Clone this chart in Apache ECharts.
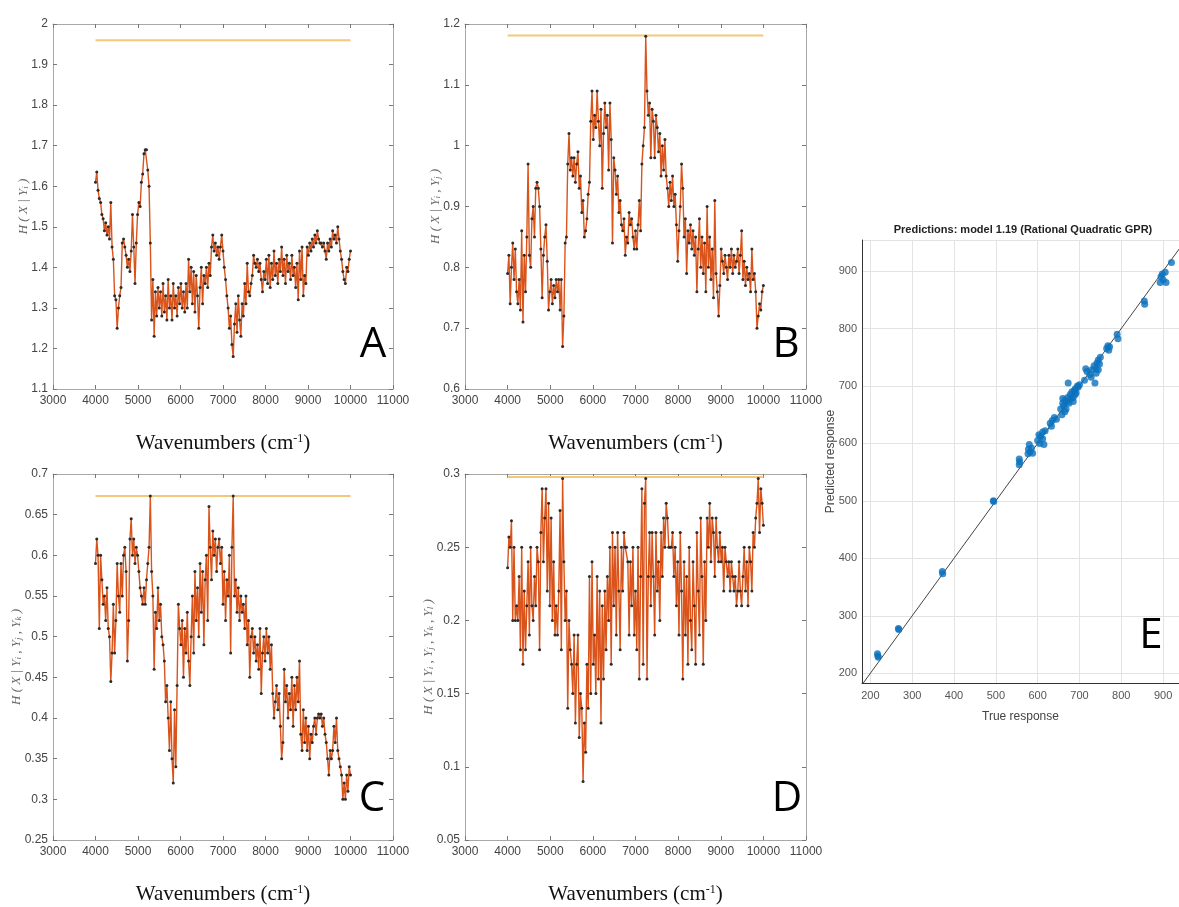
<!DOCTYPE html>
<html><head><meta charset="utf-8">
<script src="https://cdn.jsdelivr.net/npm/echarts@6/dist/echarts.min.js"></script>
<style>html,body{margin:0;padding:0;background:#fff}#c{width:1179px;height:907px}</style>
</head><body><div id="c"></div>
<script>
// Wavenumber sampling range (cm-1) shared by panels A-D
const wnStart = 4000, wnEnd = 10000;
const xTicks = [3000, 11000, 1000];

// Panel A: H(X|Yi)
const seriesA = [
1.61,1.635,1.59,1.57,1.56,1.53,1.52,1.49,1.51,1.48,
1.50,1.47,1.56,1.45,1.42,1.33,1.32,1.25,1.30,1.33,
1.35,1.46,1.47,1.45,1.43,1.40,1.42,1.39,1.44,1.53,
1.45,1.36,1.46,1.53,1.56,1.55,1.61,1.63,1.68,1.69,
1.69,1.64,1.60,1.46,1.27,1.37,1.23,1.34,1.28,1.35,
1.30,1.34,1.28,1.36,1.29,1.33,1.27,1.37,1.30,1.33,
1.27,1.36,1.30,1.33,1.28,1.35,1.31,1.36,1.30,1.34,
1.29,1.36,1.30,1.42,1.34,1.40,1.31,1.39,1.29,1.38,
1.33,1.25,1.35,1.40,1.31,1.38,1.36,1.40,1.35,1.41,
1.38,1.45,1.48,1.44,1.46,1.43,1.45,1.42,1.45,1.48,
1.44,1.40,1.37,1.33,1.30,1.25,1.28,1.21,1.18,1.26,
1.31,1.24,1.33,1.27,1.23,1.31,1.28,1.36,1.31,1.41,
1.34,1.33,1.36,1.38,1.43,1.41,1.40,1.42,1.39,1.41,
1.37,1.34,1.39,1.37,1.42,1.36,1.43,1.35,1.41,1.37,
1.44,1.38,1.41,1.36,1.42,1.39,1.45,1.38,1.42,1.36,
1.43,1.39,1.41,1.37,1.43,1.38,1.40,1.35,1.41,1.32,
1.44,1.37,1.45,1.33,1.38,1.36,1.45,1.43,1.46,1.44,
1.47,1.45,1.48,1.46,1.49,1.47,1.46,1.46,1.45,1.46,
1.44,1.42,1.46,1.44,1.47,1.45,1.49,1.47,1.48,1.46,
1.50,1.47,1.44,1.42,1.39,1.37,1.36,1.40,1.39,1.42,
1.44];
// Panel B: H(X|Yi,Yj)
const seriesB = [
0.79,0.82,0.74,0.80,0.84,0.78,0.83,0.76,0.74,0.78,
0.73,0.86,0.71,0.82,0.76,0.85,0.97,0.82,0.80,0.88,
0.90,0.85,0.93,0.94,0.93,0.90,0.83,0.75,0.82,0.85,
0.87,0.81,0.73,0.76,0.78,0.74,0.77,0.75,0.78,0.76,
0.78,0.73,0.78,0.67,0.72,0.84,0.85,0.97,1.02,0.96,
0.98,0.95,0.98,0.94,0.97,0.99,0.93,0.95,0.89,0.91,
0.85,0.86,0.88,0.92,0.94,1.04,1.09,1.01,1.05,1.03,
1.09,1.04,1.00,1.06,0.93,1.02,1.07,1.03,1.05,0.96,
1.07,1.01,0.84,0.98,0.96,0.92,0.95,0.89,0.91,0.87,
0.86,0.88,0.82,0.85,0.84,0.89,0.87,0.88,0.85,0.83,
0.86,0.83,0.87,0.91,0.86,0.97,1.00,1.03,1.18,1.09,
1.05,1.07,0.98,1.06,1.04,0.98,1.05,1.03,0.99,1.02,
0.95,1.00,0.96,1.01,0.95,0.93,0.90,0.94,0.91,0.95,
0.90,0.92,0.87,0.81,0.86,0.90,0.97,0.93,0.85,0.88,
0.79,0.86,0.84,0.87,0.83,0.86,0.82,0.85,0.76,0.83,
0.88,0.80,0.85,0.79,0.84,0.76,0.90,0.80,0.85,0.78,
0.83,0.75,0.91,0.79,0.76,0.72,0.77,0.83,0.81,0.79,
0.82,0.80,0.78,0.82,0.80,0.83,0.79,0.82,0.80,0.81,
0.83,0.79,0.82,0.86,0.78,0.81,0.77,0.80,0.78,0.79,
0.76,0.83,0.78,0.79,0.76,0.70,0.72,0.74,0.73,0.76,
0.77];
// Panel C: H(X|Yi,Yj,Yk)
const seriesC = [
0.59,0.62,0.60,0.51,0.60,0.57,0.54,0.55,0.52,0.56,
0.51,0.50,0.445,0.48,0.54,0.48,0.52,0.59,0.55,0.53,
0.59,0.55,0.60,0.61,0.58,0.47,0.52,0.62,0.645,0.60,
0.62,0.59,0.61,0.60,0.58,0.56,0.55,0.54,0.56,0.54,
0.57,0.59,0.61,0.673,0.58,0.55,0.46,0.53,0.51,0.56,
0.52,0.54,0.50,0.49,0.47,0.42,0.44,0.40,0.36,0.42,
0.35,0.32,0.41,0.34,0.44,0.54,0.51,0.49,0.52,0.45,
0.51,0.48,0.53,0.47,0.44,0.50,0.55,0.48,0.58,0.52,
0.56,0.50,0.59,0.53,0.58,0.49,0.57,0.60,0.52,0.66,
0.61,0.57,0.63,0.60,0.62,0.58,0.61,0.62,0.59,0.61,
0.54,0.58,0.52,0.57,0.55,0.60,0.48,0.61,0.673,0.55,
0.57,0.53,0.56,0.52,0.55,0.53,0.54,0.51,0.55,0.49,
0.52,0.45,0.50,0.51,0.48,0.50,0.47,0.49,0.46,0.51,
0.43,0.48,0.50,0.47,0.51,0.48,0.50,0.46,0.49,0.43,
0.40,0.42,0.44,0.41,0.43,0.39,0.35,0.37,0.46,0.42,
0.44,0.40,0.43,0.41,0.45,0.39,0.44,0.41,0.45,0.42,
0.47,0.38,0.36,0.41,0.37,0.40,0.36,0.39,0.35,0.38,
0.37,0.39,0.40,0.38,0.40,0.405,0.40,0.405,0.39,0.40,
0.38,0.37,0.35,0.33,0.36,0.35,0.36,0.39,0.37,0.40,
0.36,0.35,0.34,0.33,0.30,0.32,0.30,0.33,0.31,0.34,
0.33];
// Panel D: H(X|Yi,Yj,Yk,Yl)
const seriesD = [
0.236,0.257,0.25,0.268,0.20,0.25,0.20,0.21,0.20,0.23,
0.18,0.25,0.17,0.22,0.18,0.21,0.24,0.19,0.25,0.21,
0.20,0.23,0.21,0.25,0.24,0.18,0.26,0.29,0.24,0.27,
0.29,0.22,0.28,0.21,0.27,0.20,0.24,0.19,0.21,0.19,
0.22,0.275,0.18,0.297,0.24,0.20,0.22,0.14,0.20,0.18,
0.17,0.15,0.19,0.13,0.17,0.19,0.12,0.15,0.14,0.09,
0.13,0.11,0.17,0.14,0.23,0.15,0.24,0.17,0.19,0.15,
0.23,0.16,0.22,0.13,0.21,0.16,0.22,0.18,0.23,0.20,
0.25,0.17,0.26,0.21,0.25,0.19,0.26,0.22,0.18,0.25,
0.22,0.26,0.25,0.25,0.24,0.19,0.24,0.21,0.25,0.19,
0.22,0.18,0.25,0.16,0.23,0.29,0.17,0.28,0.297,0.16,
0.23,0.26,0.21,0.26,0.23,0.19,0.26,0.22,0.24,0.20,
0.26,0.23,0.27,0.25,0.28,0.27,0.25,0.25,0.25,0.26,
0.23,0.25,0.21,0.24,0.19,0.26,0.22,0.16,0.24,0.19,
0.23,0.17,0.25,0.20,0.18,0.24,0.21,0.17,0.26,0.22,
0.19,0.27,0.23,0.17,0.24,0.20,0.27,0.25,0.28,0.24,
0.27,0.26,0.23,0.27,0.25,0.24,0.26,0.24,0.25,0.22,
0.25,0.24,0.23,0.24,0.22,0.24,0.23,0.22,0.23,0.21,
0.22,0.24,0.22,0.21,0.23,0.25,0.22,0.24,0.21,0.25,
0.24,0.22,0.26,0.25,0.27,0.28,0.297,0.26,0.29,0.28,
0.265];
// Reference (max) lines
const refLevels = [1.96, 1.181, 0.673, 0.298];
// y-axis ranges [min, max, interval]
const yRanges = [[1.1, 2.0, 0.1], [0.6, 1.2, 0.1], [0.25, 0.7, 0.05], [0.05, 0.3, 0.05]];
const panelLetters = ['A', 'B', 'C', 'D', 'E'];

// Panel E: predictions vs true response
const trueResp = [218,217,219,267,268,373,372,494,495,556,556,557,578,580,582,585,577,588,
600,603,607,612,605,615,612,618,630,635,640,633,645,
655,658,660,662,665,668,670,672,673,675,678,680,682,685,688,690,692,695,697,700,685,690,665,660,
712,715,718,725,728,730,735,737,740,742,745,748,750,740,745,
765,768,770,772,790,792,855,856,893,895,898,900,905,907,920];
const predResp = [230,234,228,278,276,373,377,500,499,573,563,568,590,598,585,592,582,583,
605,615,612,620,600,598,608,622,635,640,645,630,642,
660,650,670,665,675,660,672,680,705,670,685,678,690,680,692,695,688,700,698,702,673,685,655,678,
710,730,725,720,715,728,735,705,730,740,745,738,750,722,728,
765,770,762,768,790,782,848,842,880,890,895,885,898,880,915];
const eRange = {xmin: 180, xmax: 938, ymin: 183, ymax: 954};
const eTitle = 'Predictions: model 1.19 (Rational Quadratic GPR)';

const yNames = [
  'H ( X | Y{s|i} )',
  'H ( X | Y{s|i} , Y{s|j} )',
  'H ( X | Y{s|i} , Y{s|j} , Y{s|k} )',
  'H ( X | Y{s|i} , Y{s|j} , Y{s|k} , Y{s|l} )'
];
const yNameGaps = [23, 23, 30, 30];

function toXY(arr) {
  const n = arr.length;
  return arr.map((v, i) => [wnStart + i * (wnEnd - wnStart) / (n - 1), v]);
}

const grids = [
  {left: 53, top: 24, width: 340, height: 365},
  {left: 465, top: 24, width: 341, height: 365},
  {left: 53, top: 474, width: 340, height: 366},
  {left: 465, top: 474, width: 341, height: 366},
  {left: 862, top: 240, width: 317, height: 443}
];

const tickFont = "'Liberation Sans',Arial,sans-serif";
const boxColor = '#a8a8a8';
const xAxes = [], yAxes = [], series = [];
const allSeries = [seriesA, seriesB, seriesC, seriesD];

for (let p = 0; p < 4; p++) {
  const [ymin, ymax, yint] = yRanges[p];
  // bottom axis
  xAxes.push({
    type: 'value', gridIndex: p, min: xTicks[0], max: xTicks[1], interval: xTicks[2],
    axisLine: {lineStyle: {color: boxColor}},
    axisTick: {inside: true, length: 4, lineStyle: {color: '#777'}},
    splitLine: {show: false},
    axisLabel: {color: '#444', fontSize: 12, fontFamily: tickFont, margin: 6, formatter: v => String(v)},
    name: '{a|Wavenumbers (cm}{sup|-1}{a|)}',
    nameLocation: 'middle', nameGap: 44, nameMoveOverlap: false,
    nameTextStyle: {
      rich: {
        a: {fontFamily: "'Liberation Serif','Times New Roman',serif", fontSize: 21, color: '#111'},
        sup: {fontFamily: "'Liberation Serif','Times New Roman',serif", fontSize: 12, color: '#111', verticalAlign: 'top', padding: [0, 0, 8, 0]}
      }
    }
  });
  // top (box) axis
  xAxes.push({
    type: 'value', gridIndex: p, position: 'top', min: xTicks[0], max: xTicks[1], interval: xTicks[2],
    axisLine: {lineStyle: {color: boxColor}},
    axisTick: {inside: true, length: 4, lineStyle: {color: '#777'}},
    splitLine: {show: false}, axisLabel: {show: false}
  });
  yAxes.push({
    type: 'value', gridIndex: p, min: ymin, max: ymax, interval: yint,
    axisLine: {show: true, lineStyle: {color: boxColor}},
    axisTick: {show: true, inside: true, length: 4, lineStyle: {color: '#777'}},
    splitLine: {show: false},
    axisLabel: {color: '#444', fontSize: 12, fontFamily: tickFont, margin: 5},
    name: yNames[p], nameLocation: 'middle', nameGap: yNameGaps[p], nameRotate: 90, nameMoveOverlap: false,
    nameTextStyle: {
      fontFamily: "'Liberation Serif','Times New Roman',serif", fontStyle: 'italic', fontSize: 13, color: '#666',
      rich: {s: {fontFamily: "'Liberation Serif',serif", fontStyle: 'italic', fontSize: 9, color: '#666', verticalAlign: 'bottom'}}
    }
  });
  yAxes.push({
    type: 'value', gridIndex: p, position: 'right', min: ymin, max: ymax, interval: yint,
    axisLine: {show: true, lineStyle: {color: boxColor}},
    axisTick: {show: true, inside: true, length: 4, lineStyle: {color: '#777'}},
    splitLine: {show: false}, axisLabel: {show: false}
  });
  const xi = p * 2, yi = p * 2;
  series.push({
    type: 'line', xAxisIndex: xi, yAxisIndex: yi, z: 1,
    data: [[wnStart, refLevels[p]], [wnEnd, refLevels[p]]],
    symbol: 'none', silent: true,
    lineStyle: {color: '#f5c778', width: 2}
  });
  series.push({
    type: 'line', xAxisIndex: xi, yAxisIndex: yi, z: 3,
    data: toXY(allSeries[p]),
    symbol: 'circle', symbolSize: 3, showSymbol: true,
    itemStyle: {color: '#2a2a2a'},
    lineStyle: {color: '#d9531a', width: 1.4}
  });
}

// Panel E axes
const eXi = xAxes.length, eYi = yAxes.length;
xAxes.push({
  type: 'value', gridIndex: 4, min: eRange.xmin, max: eRange.xmax, splitNumber: 8,
  axisLine: {onZero: false, lineStyle: {color: '#333'}},
  axisTick: {show: false},
  splitLine: {show: true, lineStyle: {color: '#e3e3e3'}},
  axisLabel: {color: '#555', fontSize: 11, fontFamily: tickFont, showMinLabel: false, showMaxLabel: false, margin: 7},
  name: 'True response', nameLocation: 'middle', nameGap: 28, nameMoveOverlap: false,
  nameTextStyle: {color: '#444', fontSize: 12, fontFamily: tickFont}
});
yAxes.push({
  type: 'value', gridIndex: 4, min: eRange.ymin, max: eRange.ymax, splitNumber: 8,
  axisLine: {show: true, onZero: false, lineStyle: {color: '#333'}},
  axisTick: {show: false},
  splitLine: {show: true, lineStyle: {color: '#e3e3e3'}},
  axisLabel: {color: '#555', fontSize: 11, fontFamily: tickFont, showMinLabel: false, showMaxLabel: false, margin: 5},
  name: 'Predicted response', nameLocation: 'middle', nameGap: 25, nameRotate: 90, nameMoveOverlap: false,
  nameTextStyle: {color: '#444', fontSize: 12, fontFamily: tickFont}
});
series.push({
  type: 'line', xAxisIndex: eXi, yAxisIndex: eYi, z: 2,
  data: [[eRange.xmin - 20, eRange.xmin - 20], [eRange.ymax + 20, eRange.ymax + 20]],
  symbol: 'none', clip: true, silent: true,
  lineStyle: {color: '#444', width: 1}
});
series.push({
  type: 'scatter', xAxisIndex: eXi, yAxisIndex: eYi, z: 3,
  data: trueResp.map((t, i) => [t, predResp[i]]),
  symbolSize: 7, itemStyle: {color: '#0b72bd'}
});

const letterPos = [[373, 345], [786, 345], [372, 799], [787, 799], [1151, 636]];
const graphic = letterPos.map((pos, i) => ({
  type: 'text', x: pos[0], y: pos[1], z: 10,
  style: {text: panelLetters[i], font: "42px 'Open Sans','Noto Sans',sans-serif", fill: '#000', align: 'center', verticalAlign: 'middle'}
}));
graphic.push({
  type: 'text', x: 1023, y: 230, z: 10,
  style: {text: eTitle, font: "bold 11px " + tickFont, fill: '#222', align: 'center', verticalAlign: 'middle'}
});

const chart = echarts.init(document.getElementById('c'));
chart.setOption({
  animation: false,
  grid: grids,
  xAxis: xAxes,
  yAxis: yAxes,
  series: series,
  graphic: graphic
});
</script>
</body></html>
